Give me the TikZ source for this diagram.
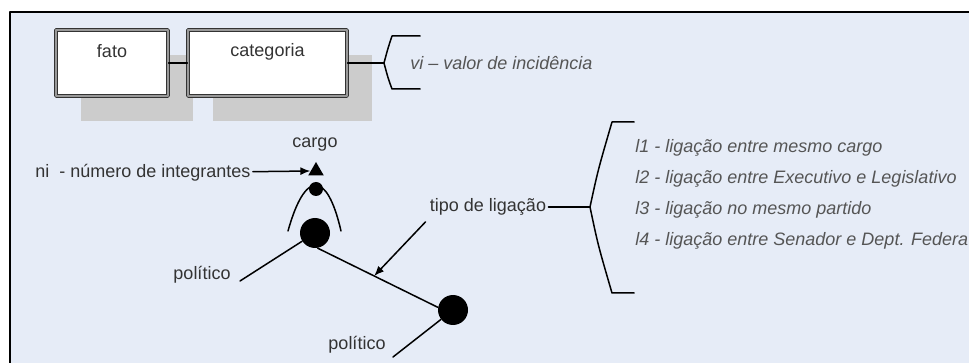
\documentclass[tikz,border=0pt]{standalone}
\usepackage{fontspec}
\setmainfont{Liberation Sans}
\usetikzlibrary{arrows.meta,calc,shadows,shapes.geometric}
\definecolor{cbg}{HTML}{E6ECF7}
\definecolor{cshadow}{HTML}{CCCCCC}
\definecolor{ctext}{HTML}{333333}
\definecolor{citext}{HTML}{555555}
\def\xlist{635}

\begin{document}
\begin{tikzpicture}[x=0.5pt, y=-0.5pt, >={Latex[length=5pt,width=4pt]},
                    line cap=round, line join=round,
                    font=\fontsize{9}{11}\selectfont,
  entbox/.style={draw=black!80, line width=0.65pt, double=black!40,
                 double distance=0.6pt, fill=white, minimum height=33pt,
                 general shadow={fill=cshadow, shadow xshift=12.5pt,
                                 shadow yshift=-12.5pt}},
  lbl/.style={text=ctext, inner sep=1pt},
  ilbl/.style={text=citext, font=\fontsize{9}{11}\selectfont\itshape,
               anchor=west, inner sep=0pt},
  pol/.style={circle, fill=black, minimum size=15pt, inner sep=0pt},
  link/.style={line width=0.75pt}]
\useasboundingbox (0,0) rectangle (969,363);

% =================== frame ===================
\fill[cbg] (10,12) rectangle (969,363);
\draw[line width=1pt] (10,363) -- (10,12) -- (969,12);

% =================== entity boxes + incidence value ===================
\node[entbox, minimum width=56pt] (fato) at (112,63) {};
\node[entbox, minimum width=79.5pt] (categoria) at (267.5,63) {};
\node[lbl] (fatotxt) at ($(fato.north)+(0,22)$) {fato};
\node[lbl] (cattxt) at ($(categoria.north)+(0,22)$) {categoria};
\draw[link] (fato) -- (categoria);

\coordinate (vitip) at (384,63);
\draw[link] (categoria) -- (vitip);
\draw[link] (420,36) -- (392,36) .. controls (388,48) .. (vitip)
  .. controls (388,78) .. (392,89) -- (420,89);
\node[ilbl] (vi) at (410,63) {vi -- valor de incidência};

% =================== the two politicians ===================
\draw[link] (288,231) .. controls (305,170) and (327,170) .. (341,231);
\node[pol] (polA) at (315,233) {};
\node[pol] (polB) at (453,310) {};
\node[circle, fill=black, minimum size=7pt, inner sep=0pt] (integ) at (316,189) {};
\node[regular polygon, regular polygon sides=3, fill=black,
      minimum size=9pt, inner sep=0pt] (cargomark) at (316,171) {};

\node[lbl] (cargo) at (315,145) {cargo};
\node[lbl, anchor=west] (nilbl) at (33,173) {ni~ - número de integrantes};
\draw[link, ->] (nilbl) -- (cargomark.west);

\coordinate (pa) at (240,281);
\coordinate (pb) at (393,357);
\draw[link] (polA) -- (pa);
\draw[link] (polB) -- (pb);
\draw[link] (polA.-80) -- (polB.170);
\node[lbl] (polAlbl) at (202,275) {político};
\node[lbl] (polBlbl) at (357,345) {político};

% link type: arrow onto the edge
\coordinate (hit) at ($(polA.-80)!0.47!(polB.170)$);
\node[lbl] (tipo) at (488,207) {tipo de ligação};
\draw[link, ->] ([xshift=-1pt,yshift=-2pt]tipo.south west) -- (hit);

% =================== link types ===================
\coordinate (bt) at (590,207);
\draw[link] (tipo) -- (bt);
\draw[link] (634,122) -- (612,122) .. controls (598,170) .. (bt)
  .. controls (598,245) .. (612,293) -- (634,293);
\foreach \lt/\yy [count=\i] in {l1 - ligação entre mesmo cargo/148,
    l2 - ligação entre Executivo e Legislativo/179,
    l3 - ligação no mesmo partido/210,
    l4 - ligação entre Senador e Dept. Federa/241}
  \node[ilbl] (lig\i) at (\xlist,\yy) {\lt};

\end{tikzpicture}
\end{document}
